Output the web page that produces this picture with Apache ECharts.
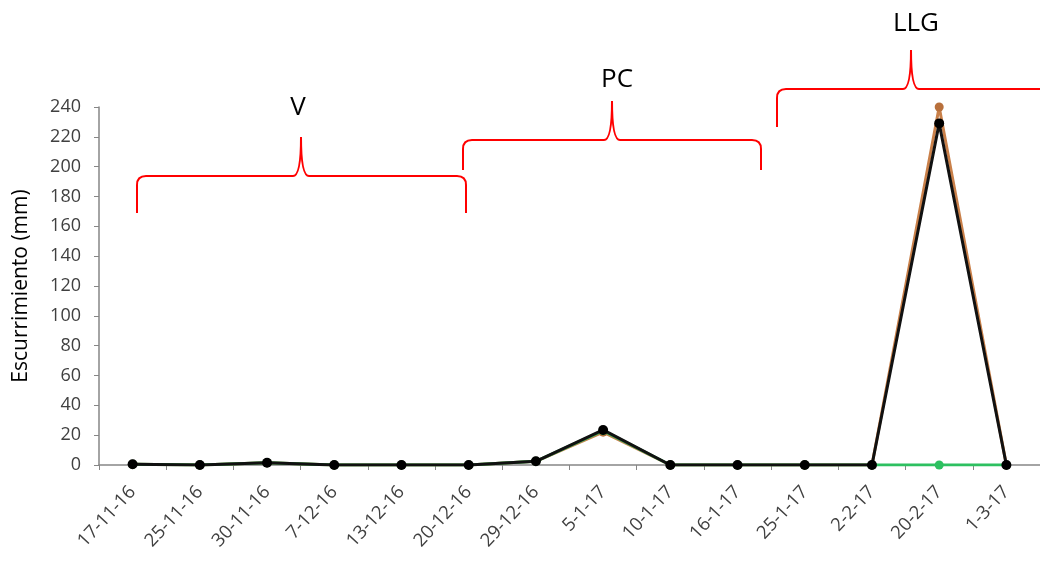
<!DOCTYPE html>
<html><head><meta charset="utf-8">
<script src="https://cdn.jsdelivr.net/npm/echarts@6/dist/echarts.min.js"></script>
<style>html,body{margin:0;padding:0;background:#fff}#c{width:1040px;height:562px}</style>
</head><body><div id="c"></div>
<script>
const categories = ['17-11-16','25-11-16','30-11-16','7-12-16','13-12-16','20-12-16','29-12-16','5-1-17','10-1-17','16-1-17','25-1-17','2-2-17','20-2-17','1-3-17'];
const seriesOrange = [0.5, 0, 1.5, 0, 0, 0, 2.5, 22, 0, 0, 0, 0, 240, 0];
const seriesGreen  = [0.5, 0, 1.5, 0, 0, 0, 2.5, 23, 0, 0, 0, 0, 0, 0];
const seriesBlack  = [0.5, 0, 1.5, 0, 0, 0, 2.5, 23.5, 0, 0, 0, 0, 229, 0];
const yTicks = {min: 0, max: 240, interval: 20};
const periodLabels = ['V', 'PC', 'LLG'];

const FONT = 'Open Sans';
const chart = echarts.init(document.getElementById('c'), null, {renderer: 'canvas'});

const RED = {stroke: '#FF0000', lineWidth: 2, fill: null};
function brace(x1, x2, xm, yb, yh, yt, openRight) {
  const r = 9, c = 8, els = [];
  els.push({type: 'line', shape: {x1: x1, y1: yb, x2: x1, y2: yh + r}, style: RED});
  els.push({type: 'bezierCurve', shape: {x1: x1, y1: yh + r, x2: x1 + r, y2: yh, cpx1: x1, cpy1: yh}, style: RED});
  els.push({type: 'line', shape: {x1: x1 + r, y1: yh, x2: xm - c, y2: yh}, style: RED});
  els.push({type: 'bezierCurve', shape: {x1: xm - c, y1: yh, x2: xm, y2: yt, cpx1: xm, cpy1: yh}, style: RED});
  els.push({type: 'bezierCurve', shape: {x1: xm, y1: yt, x2: xm + c, y2: yh, cpx1: xm, cpy1: yh}, style: RED});
  if (openRight) {
    els.push({type: 'line', shape: {x1: xm + c, y1: yh, x2: x2, y2: yh}, style: RED});
  } else {
    els.push({type: 'line', shape: {x1: xm + c, y1: yh, x2: x2 - r, y2: yh}, style: RED});
    els.push({type: 'bezierCurve', shape: {x1: x2 - r, y1: yh, x2: x2, y2: yh + r, cpx1: x2, cpy1: yh}, style: RED});
    els.push({type: 'line', shape: {x1: x2, y1: yh + r, x2: x2, y2: yb}, style: RED});
  }
  return els;
}

const graphics = [].concat(
  brace(137, 466, 301, 213, 176, 137, false),
  brace(463, 761, 612, 170, 140, 101, false),
  brace(777, 1040, 911, 127, 89, 50, true),
  [
    {type: 'text', x: 298, y: 108, style: {text: periodLabels[0], font: `26px "${FONT}"`, fill: '#000', align: 'center', verticalAlign: 'middle'}},
    {type: 'text', x: 617, y: 80, style: {text: periodLabels[1], font: `26px "${FONT}"`, fill: '#000', align: 'center', verticalAlign: 'middle'}},
    {type: 'text', x: 916, y: 24, style: {text: periodLabels[2], font: `26px "${FONT}"`, fill: '#000', align: 'center', verticalAlign: 'middle'}}
  ]
);

const option = {
  backgroundColor: '#fff',
  animation: false,
  grid: {left: 99, right: 0, top: 107, bottom: 97, containLabel: false},
  xAxis: {
    type: 'category',
    data: categories,
    boundaryGap: true,
    axisLine: {lineStyle: {color: '#868686', width: 1.5}},
    axisTick: {show: true, length: 5, lineStyle: {color: '#868686'}},
    axisLabel: {rotate: 47, color: '#404040', fontFamily: FONT, fontSize: 18.5, margin: 24, interval: 0}
  },
  yAxis: {
    type: 'value',
    min: yTicks.min, max: yTicks.max, interval: yTicks.interval,
    name: 'Escurrimiento (mm)',
    nameLocation: 'middle',
    nameGap: 67,
    nameTextStyle: {color: '#000', fontFamily: FONT, fontSize: 21},
    axisLine: {show: true, lineStyle: {color: '#868686', width: 1.5}},
    axisTick: {show: true, length: 5, lineStyle: {color: '#868686'}},
    splitLine: {show: false},
    axisLabel: {color: '#404040', fontFamily: FONT, fontSize: 18, margin: 18}
  },
  series: [
    {name: 'orange', type: 'line', data: seriesOrange, symbol: 'circle', symbolSize: 9,
     lineStyle: {color: '#C9804A', width: 3}, itemStyle: {color: '#B8703C'}, z: 2},
    {name: 'green', type: 'line', data: seriesGreen, symbol: 'circle', symbolSize: 9,
     lineStyle: {color: '#2DC060', width: 3}, itemStyle: {color: '#2DC060'}, z: 3},
    {name: 'black', type: 'line', data: seriesBlack, symbol: 'circle', symbolSize: 10,
     lineStyle: {color: '#111', width: 3}, itemStyle: {color: '#000'}, z: 4}
  ],
  graphic: graphics
};
chart.setOption(option);
</script></body></html>
